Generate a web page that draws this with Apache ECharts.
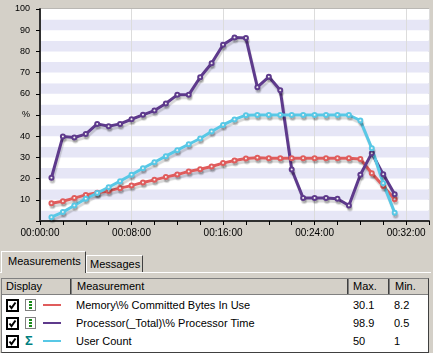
<!DOCTYPE html>
<html>
<head>
<meta charset="utf-8">
<script src="https://cdn.jsdelivr.net/npm/echarts@6/dist/echarts.min.js"></script>
<style>
  body { margin: 0; width: 433px; height: 353px; overflow: hidden; position: relative;
         background: #d4d0c8; font-family: "Liberation Sans", Arial, sans-serif; font-size: 11px; color: #000; }
  #chart { position: absolute; left: 0; top: 0; width: 433px; height: 247px; }
  .abs { position: absolute; box-sizing: border-box; }
  .tab { border: 1px solid #fff; border-right-color: #404040; border-bottom: none; background: #d4d0c8;
         line-height: 18px; padding-left: 6px; white-space: nowrap; }
  .tab.sel { z-index: 2; }
  .table { left: 1px; top: 278px; width: 428px; height: 75px; background: #fff;
           border: 1px solid #808080; border-right-color: #404040; border-bottom-color: #404040; }
  .head { left: 0; top: 0; width: 100%; height: 16px; background: #d4d0c8; border-bottom: 1px solid #808080; }
  .hc { top: 0; height: 15px; line-height: 15px; border-right: 1px solid #808080; box-shadow: inset -1px 0 0 #404040; padding-left: 4px; }
  .cell { height: 18px; line-height: 18px; white-space: nowrap; }
  .swatch { height: 2px; width: 18px; }
</style>
</head>
<body>
<div id="chart"></div>

<div class="abs tab" style="left:86px;top:255px;width:57px;height:17px;line-height:16px;padding-left:3px">Messages</div>
<div class="abs tab sel" style="left:1px;top:251px;width:85px;height:22px;">Measurements</div>
<div class="abs" style="left:0;top:272px;width:431px;height:1px;background:#fff"></div>

<div class="abs table">
  <div class="abs head">
    <div class="abs hc" style="left:0;width:70px">Display</div>
    <div class="abs hc" style="left:70px;width:277px;padding-left:5px">Measurement</div>
    <div class="abs hc" style="left:347px;width:41px">Max.</div>
    <div class="abs hc" style="left:388px;width:39px;border-right:none;box-shadow:none;padding-left:5px">Min.</div>
  </div>
  <div id="rows"></div>
</div>

<script>
// minutes since start of the run
const minutes = [1, 2, 3, 4, 5, 6, 7, 8, 9, 10, 11, 12, 13, 14, 15, 16,
                 17, 18, 19, 20, 21, 22, 23, 24, 25, 26, 27, 28, 29, 30, 31];
const memory = [8.4, 9.3, 10.8, 12.3, 13.3, 14.2, 15.5, 16.7, 18.2, 19.4, 20.7, 21.9, 23.4, 24.4, 25.7, 27.3,
                28.5, 29.5, 29.8, 29.6, 29.6, 29.6, 29.6, 29.6, 29.6, 29.6, 29.6, 29.3, 22.5, 16.5, 10.3];
const processor = [20.4, 39.9, 39.4, 41.0, 45.8, 44.7, 45.8, 48.0, 50.1, 52.1, 55.4, 59.5, 59.5, 67.8, 74.4, 83.1,
                   86.6, 86.3, 63.1, 68.0, 61.7, 24.3, 10.8, 10.8, 10.8, 10.5, 7.3, 21.8, 32.0, 22.0, 12.6];
const userCount = [1.8, 4.2, 7.3, 10.5, 13.2, 15.9, 18.8, 21.8, 24.9, 27.7, 30.6, 33.4, 36.2, 38.9, 42.2, 45.3,
                   47.9, 49.9, 50, 50, 50, 50, 50, 50, 50, 50, 50, 47.4, 34.3, 17.8, 3.9];

const xTickLabels = ['00:00:00', '00:08:00', '00:16:00', '00:24:00', '00:32:00'];
const yTickLabels = ['', '10', '20', '30', '40', '%', '60', '70', '80', '90', '100'];

const names = ['Memory\\% Committed Bytes In Use', 'Processor(_Total)\\% Processor Time', 'User Count'];
const maxVals = ['30.1', '98.9', '50'];
const minVals = ['8.2', '0.5', '1'];
const colors = ['#e05c5c', '#5e3a8c', '#58c8e6'];

// table rows
const rows = document.getElementById('rows');
names.forEach((n, i) => {
  const top = 17 + i * 18;
  const icon = i < 2
    ? '<svg width="11" height="12"><rect x="0.5" y="0.5" width="10" height="11" fill="#fff" stroke="#808080"/>' +
      '<rect x="4" y="2" width="3" height="2" fill="#1a8a1a"/><rect x="4" y="5" width="3" height="2" fill="#1a8a1a"/>' +
      '<rect x="4" y="8" width="3" height="2" fill="#1a8a1a"/></svg>'
    : '<span style="color:#008080;font-weight:bold;font-size:13px;line-height:18px">Σ</span>';
  rows.insertAdjacentHTML('beforeend',
    '<div class="abs" style="left:4px;top:' + (top + 3) + 'px"><svg width="13" height="13">' +
      '<rect x="1" y="1" width="11" height="11" fill="#fff" stroke="#000" stroke-width="2"/>' +
      '<path d="M3.5 6.5 L5.5 9 L9.5 3.5" stroke="#000" stroke-width="2" fill="none"/></svg></div>' +
    '<div class="abs" style="left:23px;top:' + (top + (i < 2 ? 3 : 0)) + 'px">' + icon + '</div>' +
    '<div class="abs swatch" style="left:41px;top:' + (top + 8) + 'px;background:' + colors[i] + '"></div>' +
    '<div class="abs cell" style="left:74px;top:' + top + 'px">' + n + '</div>' +
    '<div class="abs cell" style="left:351px;top:' + top + 'px">' + maxVals[i] + '</div>' +
    '<div class="abs cell" style="left:392px;top:' + top + 'px">' + minVals[i] + '</div>');
});

const chart = echarts.init(document.getElementById('chart'));

function lineSeries(values, color) {
  return {
    type: 'line',
    data: minutes.map((m, i) => [m, values[i]]),
    symbol: 'emptyCircle',
    symbolSize: 4,
    animation: false,
    z: 5,
    lineStyle: { color: color, width: 3, shadowColor: 'rgba(0,0,0,0.16)', shadowBlur: 1, shadowOffsetX: 1, shadowOffsetY: 3 },
    itemStyle: { color: color, borderWidth: 1, shadowColor: 'rgba(0,0,0,0.16)', shadowBlur: 1, shadowOffsetX: 1, shadowOffsetY: 3 },
    emphasis: { disabled: true }
  };
}

chart.setOption({
  animation: false,
  grid: { left: 40, right: 4, top: 9, bottom: 26, show: true, backgroundColor: '#fff', borderColor: '#a0a0a0', borderWidth: 1 },
  xAxis: [
    {
      type: 'value', min: 0, max: 34, interval: 2, z: 3,
      axisLine: { lineStyle: { color: '#303030', width: 2 } },
      axisTick: { length: 4, lineStyle: { color: '#000' } },
      axisLabel: { formatter: v => (v % 8 === 0 ? xTickLabels[v / 8] : ''), color: '#000', fontSize: 10,
                   fontFamily: 'Liberation Sans', margin: 7 },
      splitLine: { show: false }
    },
    {
      type: 'value', min: 0, max: 34, interval: 8, position: 'bottom', z: 2,
      axisLine: { show: false }, axisTick: { show: false }, axisLabel: { show: false },
      splitLine: { show: true, lineStyle: { color: '#dcdcdc', width: 1 } }
    }
  ],
  yAxis: [
    {
      type: 'value', min: 0, max: 100, interval: 5, position: 'left', z: 1,
      axisLine: { show: false }, axisTick: { show: false }, axisLabel: { show: false },
      splitLine: { show: false },
      splitArea: { show: true, areaStyle: { color: ['#e6e6f6', '#ffffff'] } }
    },
    {
      type: 'value', min: 0, max: 100, interval: 10, position: 'left', z: 3,
      axisLine: { show: true, lineStyle: { color: '#303030', width: 2 } },
      axisTick: { show: true, length: 4, lineStyle: { color: '#000' } },
      axisLabel: { formatter: v => yTickLabels[v / 10], color: '#000', fontSize: 9,
                   fontFamily: 'Liberation Sans', margin: 10 },
      splitLine: { show: false }
    }
  ],
  series: [
    lineSeries(memory, colors[0]),
    lineSeries(processor, colors[1]),
    lineSeries(userCount, colors[2])
  ]
});
</script>
</body>
</html>
